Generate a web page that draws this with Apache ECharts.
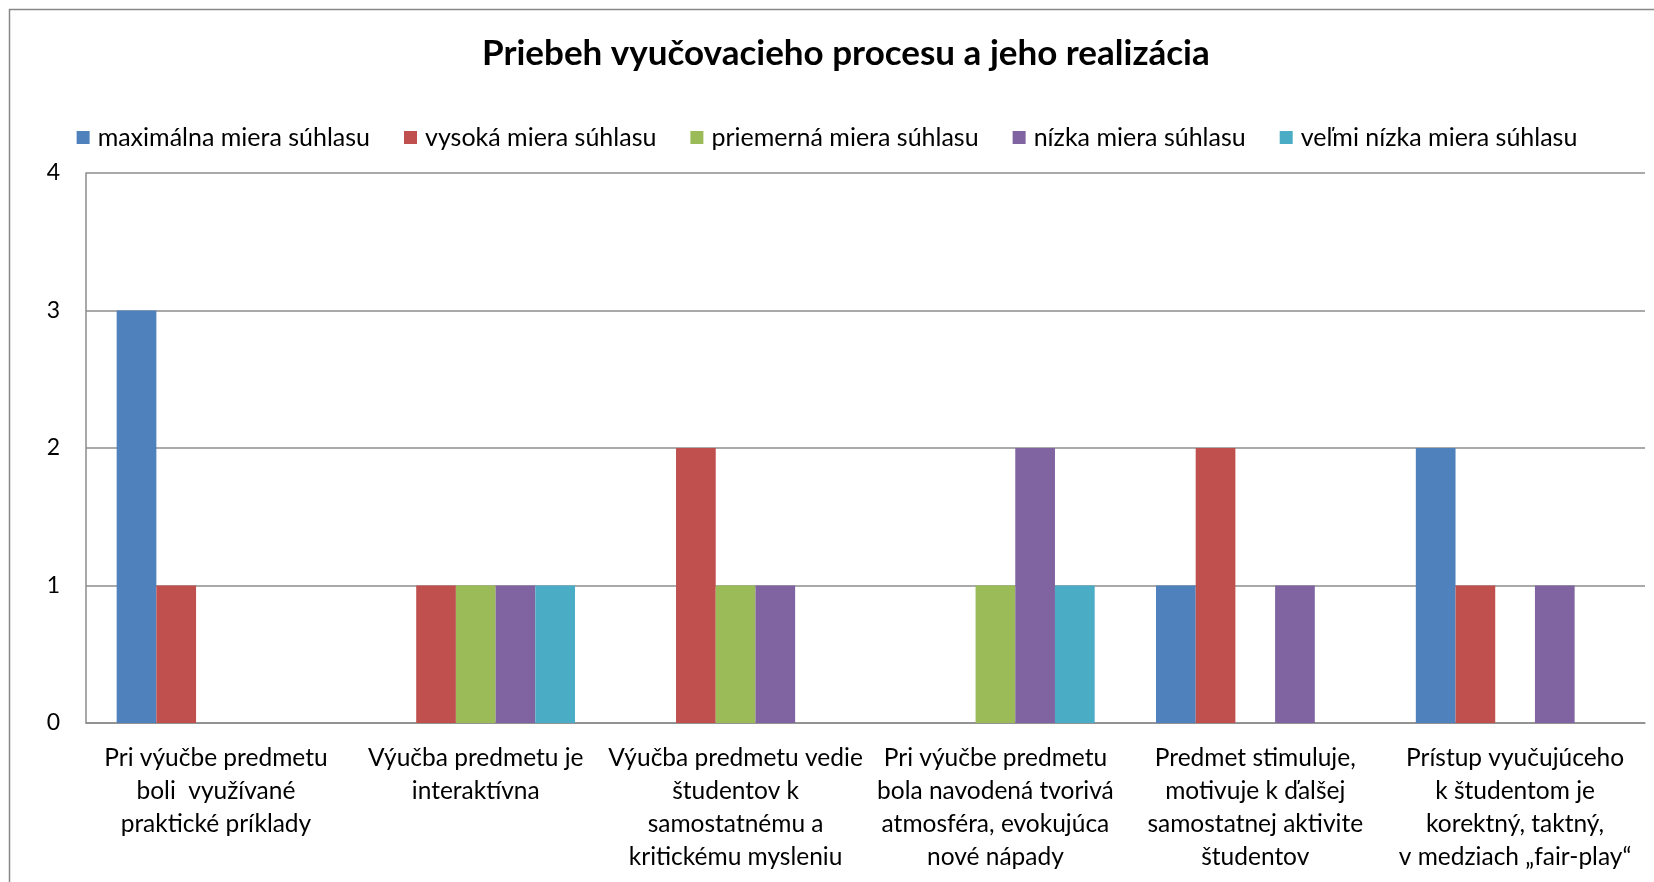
<!DOCTYPE html>
<html>
<head>
<meta charset="utf-8">
<title>Priebeh vyučovacieho procesu a jeho realizácia</title>
<script src="https://cdn.jsdelivr.net/npm/echarts@6/dist/echarts.min.js"></script>
<style>
  html, body { margin: 0; padding: 0; background: #fff; }
  #chart { width: 1654px; height: 882px; }
</style>
</head>
<body>
<div id="chart"></div>
<script>
const FONT = 'Lato, "Open Sans", sans-serif'

const categories = [
  'Pri výučbe predmetu\nboli  využívané\npraktické príklady',
  'Výučba predmetu je\ninteraktívna',
  'Výučba predmetu vedie\nštudentov k\nsamostatnému a\nkritickému mysleniu',
  'Pri výučbe predmetu\nbola navodená tvorivá\natmosféra, evokujúca\nnové nápady',
  'Predmet stimuluje,\nmotivuje k ďalšej\nsamostatnej aktivite\nštudentov',
  'Prístup vyučujúceho\nk študentom je\nkorektný, taktný,\nv medziach „fair-play“'
]
const seriesNames = [
  'maximálna miera súhlasu',
  'vysoká miera súhlasu',
  'priemerná miera súhlasu',
  'nízka miera súhlasu',
  'veľmi nízka miera súhlasu'
]
const maximalna = [3, 0, 0, 0, 1, 2]
const vysoka = [1, 1, 2, 0, 2, 1]
const priemerna = [0, 1, 1, 1, 0, 0]
const nizka = [0, 1, 1, 2, 1, 1]
const velmiNizka = [0, 1, 0, 1, 0, 0]
const yTicks = [0, 1, 2, 3, 4]

const colors = ['#4F81BD', '#C0504D', '#9BBB59', '#8064A2', '#4BACC6']
const values = [maximalna, vysoka, priemerna, nizka, velmiNizka]

const chart = echarts.init(document.getElementById('chart'))

chart.setOption({
  backgroundColor: '#fff',
  animation: false,
  textStyle: { fontFamily: FONT },
  title: {
    text: 'Priebeh vyučovacieho procesu a jeho realizácia',
    left: 477,
    top: 31,
    textStyle: {
      fontFamily: FONT,
      fontSize: 35,
      fontWeight: 'bold',
      color: '#000'
    }
  },
  legend: {
    left: 'center',
    top: 120,
    itemWidth: 13,
    itemHeight: 13,
    itemGap: 34,
    icon: 'rect',
    textStyle: {
      fontFamily: FONT,
      fontSize: 25,
      color: '#000',
      padding: [0, 0, 0, 3]
    },
    data: seriesNames
  },
  graphic: [
    {
      type: 'rect',
      silent: true,
      shape: { x: 9.5, y: 9.5, width: 1700, height: 1000 },
      style: { fill: 'none', stroke: '#888', lineWidth: 1.5 }
    }
  ],
  grid: {
    left: 86,
    right: 9,
    top: 173,
    bottom: 159
  },
  xAxis: {
    type: 'category',
    data: categories,
    axisTick: { show: false },
    axisLine: { show: true, lineStyle: { color: '#8c8c8c', width: 1.5 } },
    axisLabel: {
      interval: 0,
      margin: 19,
      fontFamily: FONT,
      fontSize: 24.5,
      lineHeight: 33,
      color: '#000',
      align: 'center'
    }
  },
  yAxis: {
    type: 'value',
    min: yTicks[0],
    max: yTicks[yTicks.length - 1],
    interval: 1,
    axisLine: { show: true, lineStyle: { color: '#8c8c8c', width: 1.5 } },
    axisTick: { show: false },
    splitLine: { show: true, lineStyle: { color: '#8c8c8c', width: 1.5 } },
    axisLabel: {
      margin: 26,
      fontFamily: FONT,
      fontSize: 23,
      color: '#000'
    }
  },
  series: seriesNames.map((name, i) => ({
    type: 'bar',
    name: name,
    data: values[i],
    barGap: '0%',
    barCategoryGap: '23.6%',
    itemStyle: { color: colors[i] }
  }))
})
</script>
</body>
</html>
